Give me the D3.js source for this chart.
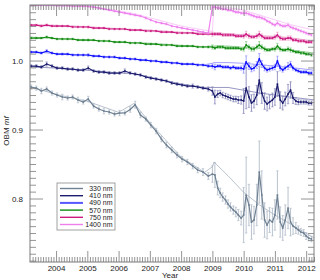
<!DOCTYPE html>
<html>
<head>
<meta charset="utf-8">
<script src="https://cdn.jsdelivr.net/npm/d3@7"></script>
<style>
  body { margin: 0; background: #fff; }
  svg { display: block; font-family: "Liberation Sans", Arial, Helvetica, sans-serif; }
  .tick line { stroke: #7a7a7a; stroke-width: 0.8; }
  .tick text { fill: #222; font-size: 8px; }
</style>
</head>
<body>
<div id="chart"></div>
<script>
// observation dates (decimal year)
var dates = [2003.20, 2003.37, 2003.53, 2003.70, 2003.87,
  2004.03, 2004.20, 2004.37, 2004.53, 2004.70, 2004.87,
  2005.03, 2005.20, 2005.37, 2005.53, 2005.70, 2005.87,
  2006.03, 2006.20, 2006.37, 2006.53, 2006.70, 2006.87,
  2007.03, 2007.20, 2007.37, 2007.53, 2007.70, 2007.87,
  2008.03, 2008.20, 2008.37, 2008.53, 2008.70, 2008.87,
  2009.00, 2009.08, 2009.17, 2009.25, 2009.33, 2009.42, 2009.50, 2009.58, 2009.67, 2009.75, 2009.83, 2009.92,
  2010.00, 2010.08, 2010.17, 2010.25, 2010.33, 2010.42, 2010.50, 2010.58, 2010.67, 2010.75, 2010.83, 2010.92,
  2011.00, 2011.08, 2011.17, 2011.25, 2011.33, 2011.42, 2011.50, 2011.58, 2011.67, 2011.75, 2011.83, 2011.92,
  2012.00, 2012.08, 2012.17];

var obm330 = [0.9616, 0.9601, 0.9558, 0.9587, 0.9529,
  0.9500, 0.9471, 0.9457, 0.9471, 0.9428, 0.9399,
  0.9442, 0.9341, 0.9297, 0.9268, 0.9254, 0.9225,
  0.9239, 0.9240, 0.9290, 0.9360, 0.9210, 0.9152,
  0.9065, 0.8978, 0.8862, 0.8775, 0.8703, 0.8630,
  0.8572, 0.8529, 0.8471, 0.8413, 0.8384, 0.8326,
  0.8355, 0.8341, 0.8152, 0.8080, 0.8022, 0.7978, 0.7920, 0.7877, 0.7833, 0.7804, 0.7761, 0.7717,
  0.7761, 0.8050, 0.7906, 0.7659, 0.7688, 0.7906, 0.8384, 0.8051, 0.7688, 0.7616, 0.7688, 0.7659,
  0.7761, 0.8051, 0.7659, 0.7573, 0.7688, 0.7862, 0.7659, 0.7601, 0.7573, 0.7543, 0.7514, 0.7500,
  0.7456, 0.7427, 0.7413];
var err330 = [0.003, 0.003, 0.004, 0.003, 0.003,
  0.003, 0.004, 0.003, 0.003, 0.004, 0.003,
  0.004, 0.003, 0.003, 0.004, 0.003, 0.003,
  0.004, 0.003, 0.004, 0.005, 0.004, 0.003,
  0.004, 0.004, 0.004, 0.004, 0.004, 0.004,
  0.004, 0.004, 0.004, 0.004, 0.005, 0.005,
  0.012, 0.018, 0.010, 0.007, 0.006, 0.006, 0.006, 0.006, 0.006, 0.007, 0.008, 0.010,
  0.040, 0.055, 0.030, 0.025, 0.020, 0.030, 0.045, 0.035, 0.025, 0.020, 0.018, 0.020,
  0.022, 0.035, 0.022, 0.018, 0.022, 0.030, 0.020, 0.012, 0.008, 0.006, 0.005, 0.005,
  0.005, 0.004, 0.004];

var obm410 = [0.9920, 0.9920, 0.9906, 0.9949, 0.9920,
  0.9891, 0.9891, 0.9877, 0.9877, 0.9862, 0.9862,
  0.9891, 0.9848, 0.9833, 0.9833, 0.9819, 0.9819,
  0.9819, 0.9848, 0.9819, 0.9804, 0.9790, 0.9761,
  0.9746, 0.9732, 0.9717, 0.9703, 0.9674, 0.9659,
  0.9645, 0.9630, 0.9630, 0.9616, 0.9601, 0.9587,
  0.9558, 0.9471, 0.9514, 0.9529, 0.9500, 0.9486, 0.9471, 0.9457, 0.9442, 0.9442, 0.9428, 0.9428,
  0.9413, 0.9601, 0.9471, 0.9384, 0.9413, 0.9500, 0.9717, 0.9529, 0.9413, 0.9370, 0.9399, 0.9428,
  0.9471, 0.9659, 0.9428, 0.9384, 0.9442, 0.9514, 0.9572, 0.9457, 0.9413, 0.9399, 0.9399, 0.9399,
  0.9399, 0.9384, 0.9384];
var err410 = [0.002, 0.002, 0.002, 0.003, 0.002,
  0.002, 0.002, 0.002, 0.002, 0.002, 0.002,
  0.003, 0.002, 0.002, 0.002, 0.002, 0.002,
  0.002, 0.003, 0.002, 0.002, 0.002, 0.002,
  0.002, 0.002, 0.002, 0.002, 0.002, 0.002,
  0.002, 0.002, 0.003, 0.002, 0.002, 0.003,
  0.006, 0.010, 0.005, 0.004, 0.004, 0.004, 0.004, 0.004, 0.004, 0.004, 0.005, 0.006,
  0.018, 0.030, 0.015, 0.012, 0.010, 0.014, 0.020, 0.015, 0.012, 0.010, 0.010, 0.010,
  0.012, 0.018, 0.012, 0.010, 0.010, 0.014, 0.012, 0.008, 0.005, 0.004, 0.003, 0.003,
  0.003, 0.003, 0.003];

var obm490 = [1.0123, 1.0123, 1.0109, 1.0138, 1.0109,
  1.0094, 1.0094, 1.0094, 1.0080, 1.0080, 1.0080,
  1.0080, 1.0065, 1.0065, 1.0051, 1.0051, 1.0051,
  1.0036, 1.0036, 1.0022, 1.0022, 1.0007, 1.0007,
  0.9993, 0.9993, 0.9978, 0.9978, 0.9964, 0.9964,
  0.9949, 0.9949, 0.9949, 0.9935, 0.9935, 0.9920,
  0.9920, 0.9906, 0.9920, 0.9920, 0.9906, 0.9906, 0.9906, 0.9891, 0.9906, 0.9891, 0.9891, 0.9891,
  0.9877, 0.9978, 0.9920, 0.9877, 0.9891, 0.9935, 1.0022, 0.9949, 0.9891, 0.9862, 0.9877, 0.9891,
  0.9906, 0.9993, 0.9891, 0.9862, 0.9891, 0.9920, 0.9949, 0.9891, 0.9862, 0.9848, 0.9833, 0.9833,
  0.9833, 0.9819, 0.9819];
var err490 = [0.0015, 0.0015, 0.0015, 0.002, 0.0015,
  0.0015, 0.0015, 0.0015, 0.0015, 0.0015, 0.0015,
  0.002, 0.0015, 0.0015, 0.0015, 0.0015, 0.0015,
  0.0015, 0.0015, 0.0015, 0.0015, 0.0015, 0.0015,
  0.0015, 0.0015, 0.0015, 0.0015, 0.0015, 0.0015,
  0.0015, 0.0015, 0.0015, 0.0015, 0.0015, 0.002,
  0.003, 0.004, 0.002, 0.002, 0.002, 0.002, 0.002, 0.002, 0.002, 0.002, 0.002, 0.003,
  0.006, 0.009, 0.005, 0.004, 0.004, 0.005, 0.008, 0.005, 0.004, 0.003, 0.003, 0.003,
  0.004, 0.007, 0.004, 0.003, 0.003, 0.005, 0.004, 0.003, 0.002, 0.002, 0.002, 0.002,
  0.002, 0.002, 0.002];

var obm570 = [1.0326, 1.0326, 1.0326, 1.0341, 1.0326,
  1.0312, 1.0312, 1.0312, 1.0312, 1.0297, 1.0297,
  1.0297, 1.0297, 1.0283, 1.0283, 1.0283, 1.0268,
  1.0268, 1.0268, 1.0254, 1.0254, 1.0254, 1.0239,
  1.0239, 1.0239, 1.0225, 1.0225, 1.0225, 1.0210,
  1.0210, 1.0210, 1.0210, 1.0196, 1.0196, 1.0196,
  1.0196, 1.0181, 1.0196, 1.0196, 1.0196, 1.0181, 1.0181, 1.0181, 1.0181, 1.0181, 1.0181, 1.0167,
  1.0167, 1.0225, 1.0196, 1.0167, 1.0167, 1.0196, 1.0225, 1.0196, 1.0167, 1.0152, 1.0152, 1.0167,
  1.0167, 1.0210, 1.0167, 1.0152, 1.0152, 1.0167, 1.0152, 1.0138, 1.0123, 1.0123, 1.0109, 1.0109,
  1.0094, 1.0094, 1.0080];
var err570 = [0.0012, 0.0012, 0.0012, 0.0015, 0.0012,
  0.0012, 0.0012, 0.0012, 0.0012, 0.0012, 0.0012,
  0.0015, 0.0012, 0.0012, 0.0012, 0.0012, 0.0012,
  0.0012, 0.0012, 0.0012, 0.0012, 0.0012, 0.0012,
  0.0012, 0.0012, 0.0012, 0.0012, 0.0012, 0.0012,
  0.0012, 0.0012, 0.0012, 0.0012, 0.0012, 0.0015,
  0.003, 0.002, 0.002, 0.002, 0.002, 0.002, 0.002, 0.002, 0.002, 0.002, 0.002, 0.002,
  0.003, 0.005, 0.003, 0.003, 0.003, 0.003, 0.005, 0.003, 0.003, 0.002, 0.002, 0.002,
  0.003, 0.004, 0.003, 0.002, 0.002, 0.003, 0.003, 0.002, 0.002, 0.002, 0.002, 0.002,
  0.002, 0.002, 0.002];

var obm750 = [1.0514, 1.0514, 1.0500, 1.0514, 1.0500,
  1.0500, 1.0500, 1.0500, 1.0486, 1.0486, 1.0486,
  1.0486, 1.0471, 1.0471, 1.0471, 1.0457, 1.0457,
  1.0457, 1.0457, 1.0442, 1.0442, 1.0442, 1.0428,
  1.0428, 1.0428, 1.0413, 1.0413, 1.0413, 1.0399,
  1.0399, 1.0399, 1.0399, 1.0384, 1.0384, 1.0384,
  1.0384, 1.0384, 1.0384, 1.0384, 1.0370, 1.0370, 1.0370, 1.0370, 1.0370, 1.0355, 1.0355, 1.0355,
  1.0355, 1.0384, 1.0355, 1.0341, 1.0341, 1.0355, 1.0384, 1.0355, 1.0326, 1.0326, 1.0326, 1.0326,
  1.0341, 1.0370, 1.0326, 1.0312, 1.0312, 1.0326, 1.0326, 1.0297, 1.0297, 1.0283, 1.0283, 1.0283,
  1.0268, 1.0268, 1.0268];
var err750 = [0.0012, 0.0012, 0.0012, 0.0015, 0.0012,
  0.0012, 0.0012, 0.0012, 0.0012, 0.0012, 0.0012,
  0.0015, 0.0012, 0.0012, 0.0012, 0.0012, 0.0012,
  0.0012, 0.0012, 0.0012, 0.0012, 0.0012, 0.0012,
  0.0012, 0.0012, 0.0012, 0.0012, 0.0012, 0.0012,
  0.0012, 0.0012, 0.0012, 0.0012, 0.0012, 0.0015,
  0.003, 0.002, 0.002, 0.002, 0.002, 0.002, 0.002, 0.002, 0.002, 0.002, 0.002, 0.002,
  0.003, 0.004, 0.003, 0.002, 0.002, 0.003, 0.004, 0.003, 0.002, 0.002, 0.002, 0.002,
  0.003, 0.004, 0.003, 0.002, 0.002, 0.003, 0.003, 0.002, 0.002, 0.002, 0.002, 0.002,
  0.002, 0.002, 0.002];

var obm1400 = [1.0804, 1.0804, 1.0804, 1.0804, 1.0804,
  1.0797, 1.0797, 1.0797, 1.0790, 1.0790, 1.0790,
  1.0783, 1.0775, 1.0761, 1.0746, 1.0732, 1.0717,
  1.0703, 1.0688, 1.0674, 1.0659, 1.0645, 1.0616,
  1.0587, 1.0558, 1.0543, 1.0529, 1.0500, 1.0486,
  1.0471, 1.0457, 1.0442, 1.0428, 1.0413, 1.0399,
  1.0775, 1.0775, 1.0761, 1.0761, 1.0746, 1.0746, 1.0732, 1.0732, 1.0717, 1.0703, 1.0703, 1.0688,
  1.0688, 1.0688, 1.0674, 1.0659, 1.0645, 1.0630, 1.0630, 1.0616, 1.0601, 1.0572, 1.0558, 1.0529,
  1.0514, 1.0543, 1.0514, 1.0500, 1.0500, 1.0514, 1.0486, 1.0471, 1.0457, 1.0442, 1.0428, 1.0413,
  1.0399, 1.0384, 1.0370];
var err1400 = [0.0015, 0.0015, 0.0015, 0.0015, 0.0015,
  0.0015, 0.0015, 0.0015, 0.0015, 0.0015, 0.0015,
  0.0015, 0.0015, 0.0015, 0.0015, 0.0015, 0.0015,
  0.0015, 0.0015, 0.0015, 0.0015, 0.0015, 0.0015,
  0.0015, 0.0015, 0.0015, 0.0015, 0.0015, 0.0015,
  0.0015, 0.0015, 0.0015, 0.0015, 0.0015, 0.0015,
  0.002, 0.002, 0.002, 0.002, 0.002, 0.002, 0.002, 0.002, 0.002, 0.002, 0.002, 0.002,
  0.002, 0.003, 0.002, 0.002, 0.002, 0.002, 0.003, 0.002, 0.002, 0.002, 0.002, 0.002,
  0.002, 0.003, 0.002, 0.002, 0.002, 0.003, 0.002, 0.002, 0.002, 0.002, 0.002, 0.002,
  0.002, 0.002, 0.002];

// smooth model curves (thin lines)
var modelDates = [2003.17, 2004.0, 2005.0, 2006.0, 2006.5, 2007.0, 2008.0, 2008.75, 2009.0, 2009.05, 2009.5, 2010.0, 2010.5, 2011.0, 2011.5, 2012.25];
var model330 = [0.962, 0.951, 0.941, 0.925, 0.938, 0.910, 0.860, 0.838, 0.846, 0.853, 0.833, 0.809, 0.791, 0.776, 0.763, 0.743];
var model410 = [0.991, 0.989, 0.986, 0.982, 0.981, 0.976, 0.966, 0.961, 0.961, 0.961, 0.961, 0.957, 0.953, 0.950, 0.947, 0.943];
var model490 = [1.013, 1.010, 1.008, 1.004, 1.002, 1.000, 0.996, 0.994, 0.996, 0.997, 0.997, 0.996, 0.994, 0.992, 0.990, 0.986];
var model570 = [1.034, 1.032, 1.030, 1.027, 1.026, 1.025, 1.022, 1.020, 1.021, 1.021, 1.021, 1.019, 1.018, 1.017, 1.015, 1.011];
var model750 = [1.052, 1.051, 1.049, 1.046, 1.045, 1.044, 1.041, 1.040, 1.040, 1.040, 1.039, 1.037, 1.036, 1.035, 1.033, 1.028];
var model1400 = [1.080, 1.080, 1.079, 1.072, 1.068, 1.062, 1.050, 1.044, 1.042, 1.080, 1.077, 1.073, 1.066, 1.059, 1.052, 1.044];

var seriesNames = ["330 nm", "410 nm", "490 nm", "570 nm", "750 nm", "1400 nm"];
var yearTicks = [2004, 2005, 2006, 2007, 2008, 2009, 2010, 2011, 2012];
var yTicks = [0.8, 0.9, 1.0];

var colors = ["#6f8193", "#1c1c6e", "#1010ff", "#118a11", "#cc1a80", "#ee80ee"];
var lightColors = ["#a8b4c2", "#7c7cb4", "#8c8cff", "#7cc47c", "#e88cc0", "#f6bff6"];

var series = [
  { values: obm330, errors: err330, model: model330 },
  { values: obm410, errors: err410, model: model410 },
  { values: obm490, errors: err490, model: model490 },
  { values: obm570, errors: err570, model: model570 },
  { values: obm750, errors: err750, model: model750 },
  { values: obm1400, errors: err1400, model: model1400 }
];

var plotLeft = 30, plotRight = 314, plotTop = 5, plotBottom = 262;

var x = d3.scaleLinear().domain([2003.1667, 2012.25]).range([plotLeft, plotRight]);
var y = d3.scaleLinear().domain([0.708, 1.0805]).range([plotBottom, plotTop]);

var svg = d3.select('#chart').append('svg')
    .attr('width', 320)
    .attr('height', 280);

svg.append('clipPath').attr('id', 'plotclip')
  .append('rect')
    .attr('x', plotLeft).attr('y', plotTop)
    .attr('width', plotRight - plotLeft).attr('height', plotBottom - plotTop);

var plot = svg.append('g').attr('clip-path', 'url(#plotclip)');

var line = d3.line()
    .x(function(d) { return x(d[0]); })
    .y(function(d) { return y(d[1]); });

series.forEach(function(s, k) {
    var pts = dates.map(function(d, i) { return { t: d, v: s.values[i], e: s.errors[i] }; });
    var g = plot.append('g');

    g.append('path')
        .datum(modelDates.map(function(d, i) { return [d, s.model[i]]; }))
        .attr('d', line)
        .attr('fill', 'none')
        .attr('stroke', lightColors[k])
        .attr('stroke-width', 0.8);

    g.selectAll('line.bar').data(pts).join('line')
        .attr('class', 'bar')
        .attr('x1', function(d) { return x(d.t); })
        .attr('x2', function(d) { return x(d.t); })
        .attr('y1', function(d) { return y(d.v - d.e); })
        .attr('y2', function(d) { return y(d.v + d.e); })
        .attr('stroke', lightColors[k])
        .attr('stroke-width', 0.8);

    ['capa', 'capb'].forEach(function(cls, j) {
        var sign = j === 0 ? 1 : -1;
        g.selectAll('line.' + cls).data(pts).join('line')
            .attr('class', cls)
            .attr('x1', function(d) { return x(d.t) - 1.2; })
            .attr('x2', function(d) { return x(d.t) + 1.2; })
            .attr('y1', function(d) { return y(d.v + sign * d.e); })
            .attr('y2', function(d) { return y(d.v + sign * d.e); })
            .attr('stroke', lightColors[k])
            .attr('stroke-width', 0.6);
    });

    g.append('path')
        .datum(pts.map(function(d) { return [d.t, d.v]; }))
        .attr('d', line)
        .attr('fill', 'none')
        .attr('stroke', colors[k])
        .attr('stroke-width', 1.2);

    g.selectAll('rect.pt').data(pts).join('rect')
        .attr('class', 'pt')
        .attr('x', function(d) { return x(d.t) - 0.8; })
        .attr('y', function(d) { return y(d.v) - 0.8; })
        .attr('width', 1.6)
        .attr('height', 1.6)
        .attr('fill', colors[k]);
});

// axes: major + minor ticks on all four sides, pointing inward
var minorX = d3.range(2003 * 12 + 3, 2012 * 12 + 4).filter(function(m) { return m % 12 !== 0; })
    .map(function(m) { return m / 12; });
var minorY = d3.range(71, 109).filter(function(k) { return k % 10 !== 0; })
    .map(function(k) { return k / 100; });

svg.append('g').attr('transform', 'translate(0,' + plotBottom + ')')
    .call(d3.axisBottom(x).tickValues(minorX).tickSize(-5).tickFormat(''));
svg.append('g').attr('transform', 'translate(0,' + plotBottom + ')')
    .call(d3.axisBottom(x).tickValues(yearTicks).tickSize(-11).tickPadding(3).tickFormat(d3.format('d')));
svg.append('g').attr('transform', 'translate(0,' + plotTop + ')')
    .call(d3.axisTop(x).tickValues(minorX).tickSize(-5).tickFormat(''));
svg.append('g').attr('transform', 'translate(0,' + plotTop + ')')
    .call(d3.axisTop(x).tickValues(yearTicks).tickSize(-11).tickFormat(''));

svg.append('g').attr('transform', 'translate(' + plotLeft + ',0)')
    .call(d3.axisLeft(y).tickValues(minorY).tickSize(-6).tickFormat(''));
svg.append('g').attr('transform', 'translate(' + plotLeft + ',0)')
    .call(d3.axisLeft(y).tickValues(yTicks).tickSize(-13).tickPadding(7).tickFormat(d3.format('.1f')));
svg.append('g').attr('transform', 'translate(' + plotRight + ',0)')
    .call(d3.axisRight(y).tickValues(minorY).tickSize(-6).tickFormat(''));
svg.append('g').attr('transform', 'translate(' + plotRight + ',0)')
    .call(d3.axisRight(y).tickValues(yTicks).tickSize(-13).tickFormat(''));

svg.selectAll('.domain').remove();

svg.append('rect')
    .attr('x', plotLeft).attr('y', plotTop)
    .attr('width', plotRight - plotLeft).attr('height', plotBottom - plotTop)
    .attr('fill', 'none')
    .attr('stroke', '#7a7a7a')
    .attr('stroke-width', 1);

// axis titles
svg.append('text')
    .attr('x', (plotLeft + plotRight) / 2 - 2)
    .attr('y', 277.5)
    .attr('text-anchor', 'middle')
    .attr('font-size', 8)
    .attr('fill', '#222')
    .text('Year');

var ylab = svg.append('text')
    .attr('transform', 'translate(9,131) rotate(-90)')
    .attr('text-anchor', 'middle')
    .attr('font-size', 8)
    .attr('fill', '#222');
ylab.append('tspan').text('OBM ');
ylab.append('tspan').attr('font-style', 'italic').text('mf');

// legend
var legend = svg.append('g');
legend.append('rect')
    .attr('x', 57).attr('y', 183)
    .attr('width', 58).attr('height', 47)
    .attr('fill', '#fff')
    .attr('stroke', '#8a8a8a')
    .attr('stroke-width', 0.8);

var rows = legend.selectAll('g.row').data(seriesNames).join('g')
    .attr('class', 'row')
    .attr('transform', function(d, i) { return 'translate(0,' + (188.5 + i * 7.2) + ')'; });
rows.append('line')
    .attr('x1', 60).attr('x2', 83)
    .attr('stroke', function(d, i) { return colors[i]; })
    .attr('stroke-width', function(d, i) { return i === 2 ? 2 : 1.4; })
    .attr('stroke-opacity', function(d, i) { return i === 2 ? 0.7 : 1; });
rows.append('text')
    .attr('x', 112.5)
    .attr('dy', '0.35em')
    .attr('text-anchor', 'end')
    .attr('font-size', 7)
    .attr('fill', '#222')
    .text(function(d) { return d; });
</script>
</body>
</html>
